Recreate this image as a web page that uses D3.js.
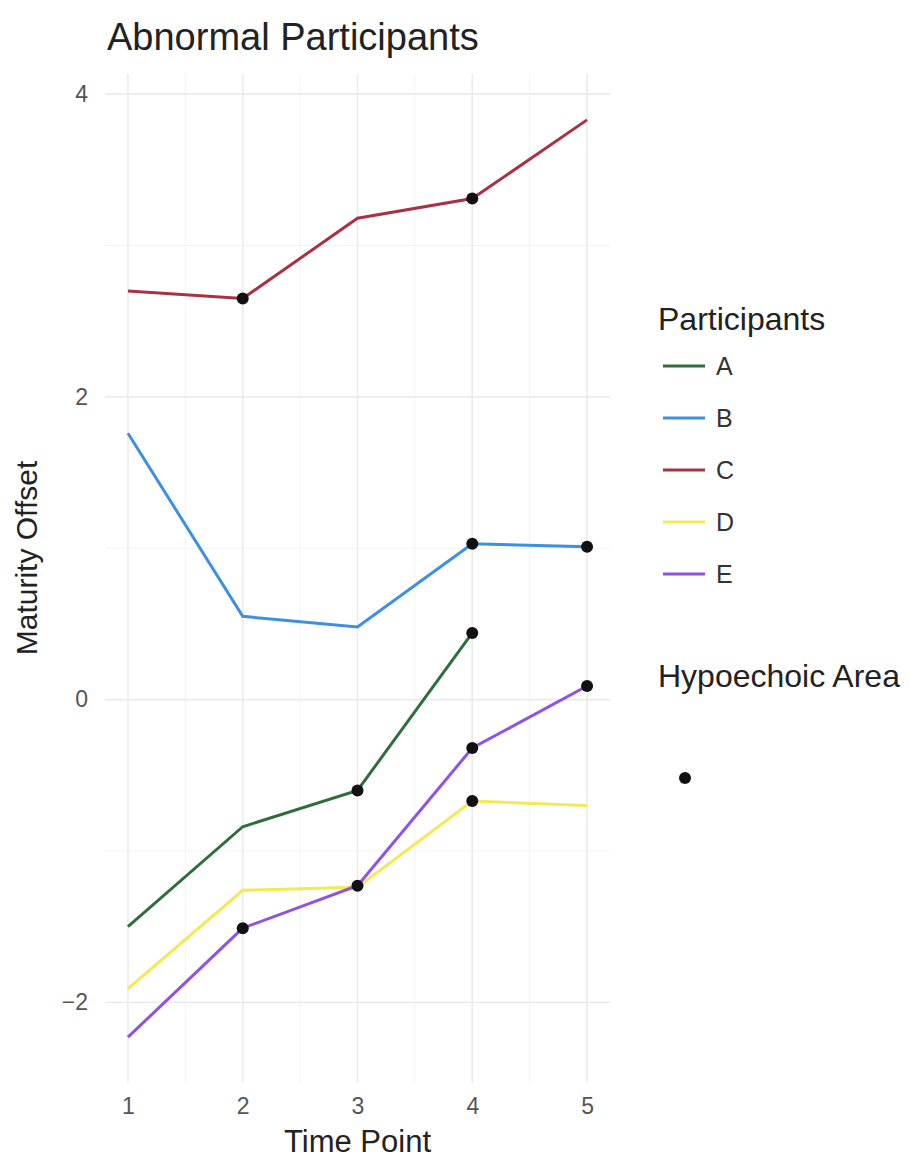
<!DOCTYPE html>
<html>
<head>
<meta charset="utf-8">
<title>Abnormal Participants</title>
<style>
  body { margin: 0; background: #fff; }
  text { font-family: "Liberation Sans", Arial, sans-serif; }
</style>
</head>
<body>
<script src="https://d3js.org/d3.v7.min.js"></script>
<script>
// data
var timePoints = [1, 2, 3, 4, 5];
var participants = ["A", "B", "C", "D", "E"];
var colors = ["#2f6e3c", "#3c8fe2", "#a83242", "#f2ea55", "#8f52e6"];

var valuesA = [-1.50, -0.84, -0.60, 0.44, null];
var valuesB = [1.76, 0.55, 0.48, 1.03, 1.01];
var valuesC = [2.70, 2.65, 3.18, 3.31, 3.83];
var valuesD = [-1.91, -1.26, -1.24, -0.67, -0.70];
var valuesE = [-2.23, -1.51, -1.23, -0.32, 0.09];

// hypoechoic area flags (1 = dot)
var hypoA = [0, 0, 1, 1, 0];
var hypoB = [0, 0, 0, 1, 1];
var hypoC = [0, 1, 0, 1, 0];
var hypoD = [0, 0, 0, 1, 0];
var hypoE = [0, 1, 1, 1, 1];

var yTicks = [-2, 0, 2, 4];
var yMinor = [-1, 1, 3];
var xMinor = [1.5, 2.5, 3.5, 4.5];

var allValues = [valuesA, valuesB, valuesC, valuesD, valuesE];
var allHypo = [hypoA, hypoB, hypoC, hypoD, hypoE];

var svg = d3.select("body").append("svg")
    .attr("width", 910)
    .attr("height", 1162);

// panel edges
var pLeft = 105, pRight = 610, pTop = 74, pBottom = 1083;

var flat = d3.merge(allValues).filter(function (v) { return v != null; });
var yExt = d3.extent(flat);
var yPad = (yExt[1] - yExt[0]) * 0.05;

var x = d3.scaleLinear().domain([0.8, 5.2]).range([pLeft, pRight]);
var y = d3.scaleLinear().domain([yExt[0] - yPad, yExt[1] + yPad]).range([pBottom, pTop]);

// grid
var grid = svg.append("g");
grid.selectAll(".ymin").data(yMinor).enter().append("line")
    .attr("x1", pLeft).attr("x2", pRight)
    .attr("y1", function (d) { return y(d); }).attr("y2", function (d) { return y(d); })
    .style("stroke", "#f3f3f3").style("stroke-width", 1);
grid.selectAll(".xmin").data(xMinor).enter().append("line")
    .attr("y1", pTop).attr("y2", pBottom)
    .attr("x1", function (d) { return x(d); }).attr("x2", function (d) { return x(d); })
    .style("stroke", "#f3f3f3").style("stroke-width", 1);
grid.selectAll(".ymaj").data(yTicks).enter().append("line")
    .attr("x1", pLeft).attr("x2", pRight)
    .attr("y1", function (d) { return y(d); }).attr("y2", function (d) { return y(d); })
    .style("stroke", "#ebebeb").style("stroke-width", 1.6);
grid.selectAll(".xmaj").data(timePoints).enter().append("line")
    .attr("y1", pTop).attr("y2", pBottom)
    .attr("x1", function (d) { return x(d); }).attr("x2", function (d) { return x(d); })
    .style("stroke", "#ebebeb").style("stroke-width", 1.6);

// axes (text only, ggplot minimal style)
var xAxis = svg.append("g")
    .attr("transform", "translate(0," + pBottom + ")")
    .call(d3.axisBottom(x).tickValues(timePoints).tickSize(0).tickPadding(15).tickFormat(d3.format("d")));
xAxis.select(".domain").remove();
xAxis.selectAll("text").style("font-size", "23px").style("fill", "#555")
    .style("font-family", "Liberation Sans, Arial, sans-serif");

var yAxis = svg.append("g")
    .attr("transform", "translate(" + pLeft + ",0)")
    .call(d3.axisLeft(y).tickValues(yTicks).tickSize(0).tickPadding(17)
        .tickFormat(function (d) { return d < 0 ? "\u2212" + Math.abs(d) : d; }));
yAxis.select(".domain").remove();
yAxis.selectAll("text").style("font-size", "23px").style("fill", "#555")
    .style("font-family", "Liberation Sans, Arial, sans-serif");

// lines
var line = d3.line()
    .defined(function (d) { return d.v != null; })
    .x(function (d) { return x(d.t); })
    .y(function (d) { return y(d.v); });

participants.forEach(function (p, i) {
    var pts = timePoints.map(function (t, j) { return { t: t, v: allValues[i][j], h: allHypo[i][j] }; });
    svg.append("path")
        .datum(pts)
        .attr("d", line)
        .style("fill", "none")
        .style("stroke", colors[i])
        .style("stroke-width", 3);
});

// hypoechoic dots
participants.forEach(function (p, i) {
    var pts = timePoints.map(function (t, j) { return { t: t, v: allValues[i][j], h: allHypo[i][j] }; })
        .filter(function (d) { return d.h == 1 && d.v != null; });
    svg.selectAll(".dot" + p).data(pts).enter().append("circle")
        .attr("cx", function (d) { return x(d.t); })
        .attr("cy", function (d) { return y(d.v); })
        .attr("r", 6)
        .style("fill", "#111");
});

// titles
svg.append("text").attr("x", 107).attr("y", 50)
    .style("font-size", "38px").style("fill", "#222").text("Abnormal Participants");
svg.append("text").attr("x", (pLeft + pRight) / 2).attr("y", 1152)
    .attr("text-anchor", "middle")
    .style("font-size", "31px").style("fill", "#222").text("Time Point");
svg.append("text")
    .attr("transform", "translate(37,558) rotate(-90)")
    .attr("text-anchor", "middle")
    .style("font-size", "30px").style("fill", "#222").text("Maturity Offset");

// legend
var legend = svg.append("g");
legend.append("text").attr("x", 658).attr("y", 330)
    .style("font-size", "32px").style("fill", "#222").text("Participants");
var keys = legend.selectAll(".key").data(participants).enter().append("g")
    .attr("transform", function (d, i) { return "translate(663," + (366 + i * 52) + ")"; });
keys.append("line").attr("x1", 0).attr("x2", 42).attr("y1", 0).attr("y2", 0)
    .style("stroke", function (d, i) { return colors[i]; })
    .style("stroke-width", 3);
keys.append("text").attr("x", 53).attr("y", 9)
    .style("font-size", "25px").style("fill", "#333").text(function (d) { return d; });

legend.append("text").attr("x", 658).attr("y", 687)
    .style("font-size", "32px").style("fill", "#222").text("Hypoechoic Area");
legend.append("circle").attr("cx", 685).attr("cy", 778).attr("r", 6).style("fill", "#111");
</script>
</body>
</html>
